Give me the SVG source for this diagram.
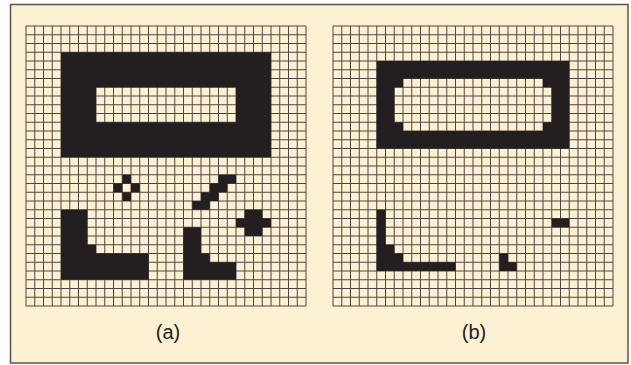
<svg xmlns="http://www.w3.org/2000/svg" xmlns:xlink="http://www.w3.org/1999/xlink" width="631" height="365" viewBox="0 0 631 365">
<style>
.frame{fill:#fdf1d4;stroke:#5a5452;stroke-width:1.5}
.grid{fill:none;stroke:#4f4743;stroke-width:1}
.ink{fill:#231f20}
.lbl{font-family:"Liberation Sans",Arial,sans-serif;font-size:20px;fill:#231f20;text-anchor:middle}
</style>
<defs>
<path id="gridlines" class="grid" vector-effect="non-scaling-stroke" d="M0 0V32M1 0V32M2 0V32M3 0V32M4 0V32M5 0V32M6 0V32M7 0V32M8 0V32M9 0V32M10 0V32M11 0V32M12 0V32M13 0V32M14 0V32M15 0V32M16 0V32M17 0V32M18 0V32M19 0V32M20 0V32M21 0V32M22 0V32M23 0V32M24 0V32M25 0V32M26 0V32M27 0V32M28 0V32M29 0V32M30 0V32M31 0V32M32 0V32M0 0H32M0 1H32M0 2H32M0 3H32M0 4H32M0 5H32M0 6H32M0 7H32M0 8H32M0 9H32M0 10H32M0 11H32M0 12H32M0 13H32M0 14H32M0 15H32M0 16H32M0 17H32M0 18H32M0 19H32M0 20H32M0 21H32M0 22H32M0 23H32M0 24H32M0 25H32M0 26H32M0 27H32M0 28H32M0 29H32M0 30H32M0 31H32M0 32H32"/>
</defs>
<rect width="631" height="365" fill="#ffffff"/>
<rect class="frame" x="10.5" y="4.5" width="617.5" height="358.5"/>

<g id="panel-a">
  <g transform="translate(26,26) scale(8.75)">
    <use xlink:href="#gridlines" href="#gridlines"/>
    <path id="a-ring" class="ink" fill-rule="evenodd" d="M4 3H28V15H4Z M8 7H24V11H8Z"/>
    <path id="a-diamond" class="ink" d="M11 17h1v1h-1z M10 18h1v1h-1z M12 18h1v1h-1z M11 19h1v1h-1z"/>
    <path id="a-diagonal" class="ink" d="M22 17h2v1h-2z M21 18h2v1h-2z M20 19h2v1h-2z M19 20h2v1h-2z"/>
    <path id="a-blob" class="ink" d="M25 21h2v1h-2z M24 22h4v1h-4z M25 23h2v1h-2z"/>
    <path id="a-L1" class="ink" d="M4 21H7V25H8V26H14V29H4Z"/>
    <path id="a-L2" class="ink" d="M18 23H20V26H21V27H24V29H18Z"/>
  </g>
  <text class="lbl" x="168" y="339">(a)</text>
</g>

<g id="panel-b">
  <g transform="translate(333,26) scale(8.75)">
    <use xlink:href="#gridlines" href="#gridlines"/>
    <path id="b-ring" class="ink" fill-rule="evenodd" d="M5 4H27V14H5Z M8 6H24V7H25V11H24V12H8V11H7V7H8Z"/>
    <path id="b-L" class="ink" d="M5 21H6V25H7V26H8V27H14V28H5Z"/>
    <path id="b-bar" class="ink" d="M25 22h2v1h-2z"/>
    <path id="b-smallL" class="ink" d="M19 26H20V27H21V28H19Z"/>
  </g>
  <text class="lbl" x="474" y="339">(b)</text>
</g>
</svg>
